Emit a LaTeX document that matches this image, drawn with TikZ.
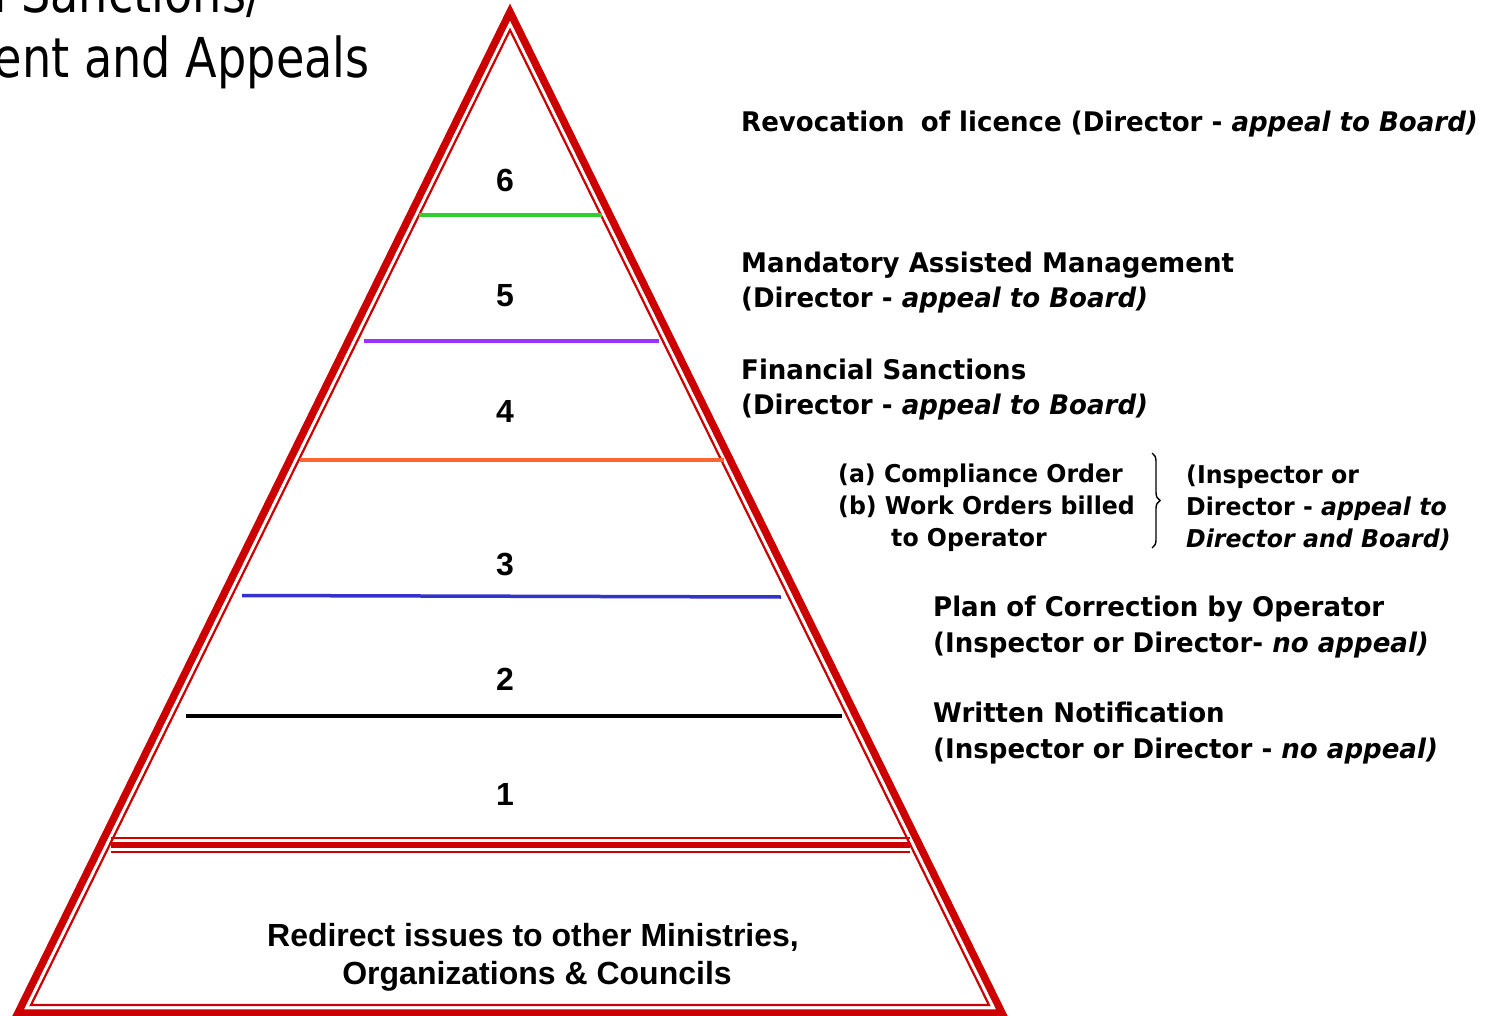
\documentclass[tikz,border=0pt]{standalone}
\usepackage{fontspec}
\setmainfont{DejaVu Sans}
\newfontfamily\labfont[FakeStretch=0.965]{DejaVu Sans}
\newfontfamily\numfont{Liberation Sans}
\newfontfamily\titlefont[FakeStretch=0.84]{DejaVu Sans}
\usetikzlibrary{decorations.pathreplacing}
\definecolor{pyrred}{HTML}{CC0000}
\definecolor{lvgreen}{HTML}{33CC33}
\definecolor{lvpurple}{HTML}{9933FF}
\definecolor{lvorange}{HTML}{FF6633}
\definecolor{lvblue}{HTML}{3333CC}
\begin{document}
\begin{tikzpicture}[x=1pt,y=-1pt,
  lab/.style={anchor=base west, inner sep=0pt, font={\labfont\bfseries\fontsize{27}{32}\selectfont}},
  sublab/.style={anchor=base west, inner sep=0pt, font={\labfont\bfseries\fontsize{24.5}{29}\selectfont}},
  num/.style={anchor=base, inner sep=0pt, font={\numfont\bfseries\fontsize{32}{38}\selectfont}},
  bottomtxt/.style={anchor=base, inner sep=0pt, font={\numfont\bfseries\fontsize{32}{38}\selectfont}},
  titletxt/.style={anchor=base east, inner sep=0pt, font={\titlefont\fontsize{55}{66}\selectfont}},
  outerline/.style={draw=pyrred, line width=7.5pt, line join=miter},
  innerline/.style={draw=pyrred, line width=2.2pt, line join=miter},
  level/.style={line width=3.5pt},
]
\useasboundingbox (0,0) rectangle (1494,1016);
\fill[white] (0,0) rectangle (1494,1016);

% title (cut off at the page edge, as in the reference)
\node[titletxt] (t1) at (262,13) {d Sanctions/};
\node[titletxt] (t2) at (370,78) {ent and Appeals};

% pyramid
\draw[outerline] (510,12) -- (18,1013) -- (1002,1013) -- cycle;
\draw[innerline] (510,30) -- (31,1005) -- (989,1005) -- cycle;

% level separators
\draw[level, lvgreen] (419,215) -- (602,215);
\draw[level, lvpurple] (364,341) -- (659,341);
\draw[lvorange, line width=4.5pt] (300,460) -- (724,460);
\draw[level, lvblue] (242,595.5) -- (781,597);
\draw[black, line width=3.5pt] (186,716) -- (842,716);

% triple red separator
\draw[pyrred, line width=2.2pt] (111,838) -- (910,838);
\draw[pyrred, line width=6pt] (111,845) -- (910,845);
\draw[pyrred, line width=2.2pt] (111,852) -- (910,852);

% numbers
\node[num] (n6) at (505,192) {6};
\node[num] (n5) at (505,307) {5};
\node[num] (n4) at (505,422) {4};
\node[num] (n3) at (505,575) {3};
\node[num] (n2) at (505,690) {2};
\node[num] (n1) at (505,805) {1};

% bottom text
\node[bottomtxt] (b1) at (533,946) {Redirect issues to other Ministries,};
\node[bottomtxt] (b2) at (537,984) {Organizations \& Councils};

% labels
\node[lab] (l6) at (741,132) {Revocation\hspace{0.6em}of licence (Director - \textit{appeal to Board)}};
\node[lab] (l5a) at (741,273) {Mandatory Assisted Management};
\node[lab] (l5b) at (741,308) {(Director - \textit{appeal to Board)}};
\node[lab] (l4a) at (741,379) {Financial Sanctions};
\node[lab] (l4b) at (741,414) {(Director - \textit{appeal to Board)}};

\node[sublab] (l3a) at (838,482) {(a) Compliance Order};
\node[sublab] (l3b) at (838,514) {(b) Work Orders billed};
\node[sublab] (l3c) at (891,546) {to Operator};
\draw[black, line width=1.4pt, decorate, decoration={brace, amplitude=8pt}]
  (1152,453) -- (1152,548);
\node[sublab] (l3d) at (1186,483) {(Inspector or};
\node[sublab] (l3e) at (1186,515) {Director - \textit{appeal to}};
\node[sublab] (l3f) at (1186,547) {\textit{Director and Board)}};

\node[lab] (l2a) at (933,616) {Plan of Correction by Operator};
\node[lab] (l2b) at (933,652) {(Inspector or Director- \textit{no appeal)}};
\node[lab] (l1a) at (933,722) {Written Notification};
\node[lab] (l1b) at (933,758) {(Inspector or Director - \textit{no appeal)}};
\end{tikzpicture}
\end{document}
